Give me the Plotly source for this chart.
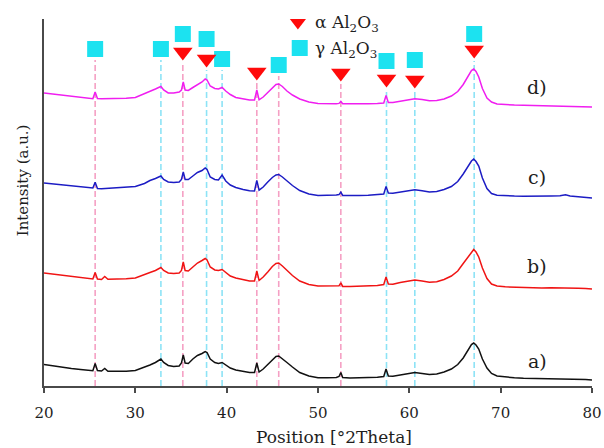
import plotly.graph_objects as go

# 2-theta sampling positions (degrees)
THETA = [
    20, 21, 22, 23, 24, 25, 25.35, 25.6, 25.85, 26.3,
    26.65, 27, 28, 29, 30, 31, 31.6, 32.2, 32.55, 32.8,
    33.1, 33.6, 34.2, 34.8, 35.05, 35.25, 35.45, 35.8, 36.3, 36.8,
    37.3, 37.65, 37.85, 38.2, 38.7, 39.1, 39.5, 39.9, 40.4, 41,
    41.8, 42.5, 43.05, 43.3, 43.55, 44, 44.5, 45, 45.4, 45.7,
    46.1, 46.6, 47.2, 48, 49, 50, 51, 52, 52.3, 52.5,
    52.7, 53.5, 54.5, 55.5, 56.5, 57.2, 57.45, 57.7, 58.2, 59,
    59.8, 60.6, 61.4, 62.2, 63, 63.8, 64.6, 65.3, 65.9, 66.4,
    66.8, 67.05, 67.3, 67.6, 68, 68.5, 69, 69.6, 70.5, 71.5,
    72.5, 73.5, 74.5, 75.5, 76.5, 77.1, 77.6, 78.5, 79.3, 80,
]

# Diffracted intensity of each sample above its own background (a.u.)
INT_A = [
    15.5, 14, 12.5, 11.5, 10.5, 9.8, 9.3, 16.5, 9.5, 9.0,
    11.5, 8.8, 8.5, 8.8, 9.5, 12.5, 15, 17.5, 19.5, 21,
    17.5, 14.5, 13.5, 14, 17, 25, 17, 16.5, 21, 24.5,
    26.5, 28.5, 27.5, 21, 17.5, 16.5, 17.5, 15, 12, 10,
    8.5, 7.5, 7.5, 17, 8, 11, 15.5, 20.5, 23.5, 24,
    21.5, 17.5, 13, 7.5, 4, 2.2, 2.2, 2.6, 3.5, 7.5,
    2.5, 2, 2.2, 2.4, 2.8, 3.5, 11, 4, 3.8, 5,
    6.5, 7.5, 6.5, 5.5, 6, 8, 11, 15.5, 22, 29,
    35.5, 37, 35, 31, 21, 12, 6.5, 4, 2.8, 2.2,
    1.8, 1.6, 1.5, 1.5, 1.3, 1.5, 1.0, 0.8, 0.5, 0,
]
INT_B = [
    16, 15, 13.5, 12.5, 11.5, 10.5, 10, 16.5, 10, 9.5,
    12.5, 9.8, 9.8, 10.3, 11, 14, 16.5, 18.5, 20, 21.5,
    18.5, 16, 15.5, 16, 18.5, 27, 18.5, 18, 22, 26,
    28.5, 30.5, 29, 22, 19, 18.5, 19.5, 16.5, 13, 11,
    9, 8, 8, 18, 8.5, 12, 17, 22.5, 25.5, 26,
    23, 18.5, 13.5, 8, 4.5, 3, 2.8, 2.8, 3.2, 6.2,
    2.6, 2.4, 2.5, 2.8, 3.4, 4.5, 12, 5, 4.8, 6.5,
    8, 9, 8, 6.8, 7.2, 9.5, 13, 18, 25.5, 32,
    37.5, 39.5, 37, 32, 21, 10.5, 5, 3, 2.2, 1.8,
    1.2, 1.3, 1.0, 1.2, 1.1, 1.6, 1.0, 0.8, 0.6, 0,
]
INT_C = [
    15, 14, 13, 12, 11, 10.5, 10, 15.8, 9.5, 9.3,
    9.5, 9.8, 10, 10.5, 11.5, 14.5, 17.5, 19.5, 21, 22,
    18.5, 16, 15.5, 16, 18.5, 26, 18.5, 18.5, 22, 25.5,
    27.5, 30, 28.5, 21, 18.5, 18, 23, 17, 13, 10.5,
    8.5, 7.2, 7, 17.7, 7.8, 11, 16, 20.5, 23, 23.5,
    21, 17, 12.5, 7.5, 4, 2.6, 2.5, 3, 3.4, 5.9,
    2.6, 2.4, 2.6, 2.8, 3.2, 4, 11.5, 5, 4.8, 5.8,
    7.2, 8.2, 7.2, 6, 6.5, 8.5, 11.5, 16.5, 24, 31.5,
    37, 39, 36.5, 32, 20, 9.5, 4.5, 2.8, 2.2, 1.9,
    1.7, 1.6, 1.8, 2.0, 2.2, 3.2, 2.0, 1.2, 0.8, 0,
]
INT_D = [
    14, 13, 11.5, 10.5, 9.5, 8.8, 8.3, 15, 8.5, 8.2,
    8.2, 8.2, 8.3, 8.7, 9.5, 13, 15.5, 18, 19.5, 20.5,
    17, 14, 14, 15, 17, 25, 17, 16.5, 19.5, 22.5,
    25, 28, 27, 21, 18.5, 18, 19.5, 16, 12.5, 9.5,
    8, 7, 7, 17, 7.2, 10, 14.5, 19.5, 22.5, 23,
    20.5, 16, 12, 8, 5, 3.5, 3.2, 3.3, 3.6, 5.5,
    3.2, 3, 3, 3.2, 3.4, 4, 11.5, 4.5, 4.5, 5.8,
    7.2, 8.3, 7.5, 6.3, 6.5, 8, 11, 15.5, 22.5, 30.5,
    36.5, 38, 35.5, 30, 18.5, 9, 5, 3, 2.3, 1.9,
    1.7, 1.5, 1.5, 1.4, 1.4, 1.3, 1.2, 1.0, 0.6, 0,
]

SAMPLE_LABELS = ["a)", "b)", "c)", "d)"]
SERIES = [INT_A, INT_B, INT_C, INT_D]

# Reflection positions of the two alumina phases (2-theta, degrees)
ALPHA_PEAKS = [35.2, 37.8, 43.3, 52.5, 57.5, 60.6, 67.1]
GAMMA_PEAKS = [25.6, 32.8, 35.2, 37.8, 39.5, 45.7, 57.5, 60.6, 67.1]
PINK_LINES = [25.6, 35.2, 43.3, 45.7, 52.5]
CYAN_LINES = [32.8, 37.8, 39.5, 57.5, 60.6, 67.1]

# ---- styling / placement ----
FONT = "DejaVu Serif"
STACK_OFFSET = [6, 97, 188, 279]
LINE_COLORS = ["#111111", "#F01414", "#1C1CC4", "#F01EF0"]
LABEL_Y = [25, 120, 209, 299]
ALPHA_MARK_Y = [334, 327, 314, 313, 307, 306, 336]
GAMMA_MARK_Y = [337, 337, 352, 347, 327, 321, 325, 326, 352]
PINK = "#F5A0C4"
CYAN = "#8DE3F6"
SQUARE_COLOR = "#1CE2F0"
TRI_COLOR = "#FF0A0A"
AXIS_COLOR = "#4A4A4A"
TEXT_COLOR = "#1E1E1E"

fig = go.Figure()

# reference lines for each reflection, stopping just below its marker
marker_tops = {}
for x, y in zip(ALPHA_PEAKS, ALPHA_MARK_Y):
    marker_tops[x] = min(marker_tops.get(x, 1e9), y)
for x, y in zip(GAMMA_PEAKS, GAMMA_MARK_Y):
    marker_tops[x] = min(marker_tops.get(x, 1e9), y)

for xs, col in ((PINK_LINES, PINK), (CYAN_LINES, CYAN)):
    for x in xs:
        fig.add_shape(type="line", xref="x", yref="y", x0=x, x1=x,
                      y0=0, y1=marker_tops[x] - 11, layer="below",
                      line=dict(color=col, width=1.6, dash="6px,3px"))

# diffraction patterns, stacked
for vals, off, col in zip(SERIES, STACK_OFFSET, LINE_COLORS):
    fig.add_trace(go.Scatter(
        x=THETA, y=[v + off for v in vals], mode="lines",
        line=dict(color=col, width=1.5), showlegend=False, hoverinfo="skip"))

# phase markers
fig.add_trace(go.Scatter(
    x=GAMMA_PEAKS, y=GAMMA_MARK_Y, mode="markers", showlegend=False,
    marker=dict(symbol="square", size=16, color=SQUARE_COLOR,
                line=dict(width=0))))
fig.add_trace(go.Scatter(
    x=ALPHA_PEAKS, y=ALPHA_MARK_Y, mode="markers", showlegend=False,
    marker=dict(symbol="triangle-down", size=17, color=TRI_COLOR,
                line=dict(width=0))))

# key markers
fig.add_trace(go.Scatter(
    x=[47.8], y=[365], mode="markers", showlegend=False,
    marker=dict(symbol="triangle-down", size=17, color=TRI_COLOR, line=dict(width=0))))
fig.add_trace(go.Scatter(
    x=[48.0], y=[338], mode="markers", showlegend=False,
    marker=dict(symbol="square", size=16, color=SQUARE_COLOR, line=dict(width=0))))

annotations = [
    dict(text="α Al<sub>2</sub>O<sub>3</sub>", x=0.491, y=0.989, xref="paper", yref="paper",
         xanchor="left", yanchor="middle", showarrow=False,
         font=dict(family=FONT, size=17, color=TEXT_COLOR)),
    dict(text="γ Al<sub>2</sub>O<sub>3</sub>", x=0.491, y=0.918, xref="paper", yref="paper",
         xanchor="left", yanchor="middle", showarrow=False,
         font=dict(family=FONT, size=17, color=TEXT_COLOR)),
    dict(text="Intensity (a.u.)", x=-0.038, y=0.561, xref="paper", yref="paper",
         textangle=-90, showarrow=False, xanchor="center", yanchor="middle",
         font=dict(family=FONT, size=15, color=TEXT_COLOR)),
    dict(text="Position [°2Theta]", x=0.529, y=-0.139, xref="paper", yref="paper",
         showarrow=False, xanchor="center", yanchor="middle",
         font=dict(family=FONT, size=17, color=TEXT_COLOR)),
]
for lab, ly in zip(SAMPLE_LABELS, LABEL_Y):
    annotations.append(dict(text=lab, x=74.0, y=ly, xref="x", yref="y",
                            showarrow=False, xanchor="center", yanchor="middle",
                            font=dict(family=FONT, size=19, color=TEXT_COLOR)))

fig.update_layout(
    width=604, height=448,
    margin=dict(l=44, r=12, t=19, b=62),
    plot_bgcolor="white", paper_bgcolor="white",
    annotations=annotations,
    xaxis=dict(range=[20, 80], tickvals=[20, 30, 40, 50, 60, 70, 80],
               ticks="outside", ticklen=5, tickwidth=1.5, tickcolor=AXIS_COLOR,
               showline=True, linecolor=AXIS_COLOR, linewidth=2,
               showgrid=False, zeroline=False, ticklabelstandoff=7,
               ticklabeloverflow="allow", automargin=False,
               tickfont=dict(family=FONT, size=15, color=TEXT_COLOR)),
    yaxis=dict(range=[0, 367], showline=True, linecolor=AXIS_COLOR, linewidth=2,
               showticklabels=False, ticks="", showgrid=False, zeroline=False,
               automargin=False),
)

fig.write_html("out.html")
